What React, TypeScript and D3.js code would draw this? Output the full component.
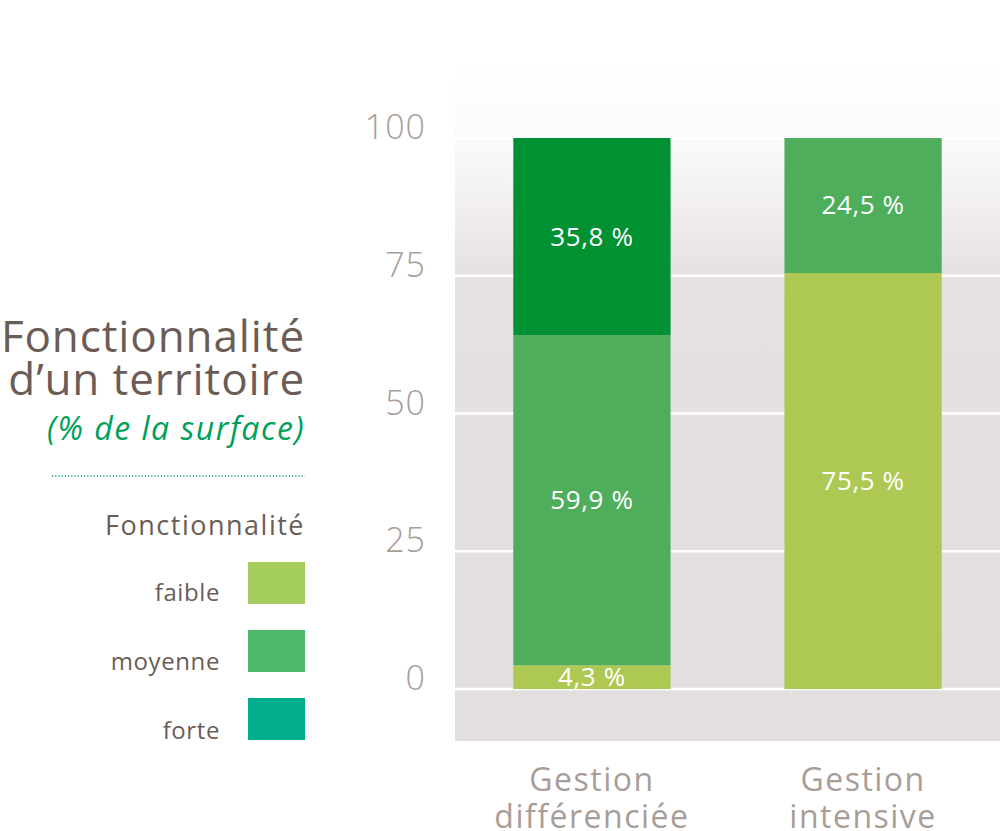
import React from "react";
import * as d3 from "d3";

const categories = ["Gestion différenciée", "Gestion intensive"];
const categoryLines = [["Gestion", "différenciée"], ["Gestion", "intensive"]];
const levels = ["faible", "moyenne", "forte"];
const faible = [4.3, 75.5];
const moyenne = [59.9, 24.5];
const forte = [35.8, 0];
const yTicks = [0, 25, 50, 75, 100];
const barColors = ["#adc853", "#4eae5c", "#009133"];
const legendColors = ["#a4cd5e", "#4cba6a", "#00ae8b"];

const W = 1000;
const H = 831;
const FONT = "'Open Sans', sans-serif";

export default function App() {
  const y = d3.scaleLinear().domain([0, 100]).range([689, 138]);
  const x = d3.scaleBand().domain(categories).range([455, 1000]).paddingInner(0.42).paddingOuter(0.215);
  const rows = categories.map((c, i) => ({ cat: c, faible: faible[i], moyenne: moyenne[i], forte: forte[i] }));
  const stack = d3.stack<any>().keys(levels)(rows);
  const fmt = (v: number) => d3.format(".1f")(v).replace(".", ",") + " %";

  return (
    <svg width={W} height={H} style={{ position: "absolute", left: 0, top: 0, display: "block" }}>
      <defs>
        <linearGradient id="bg" x1="0" y1="0" x2="0" y2="1" gradientUnits="objectBoundingBox">
          <stop offset="0" stopColor="#ffffff" />
          <stop offset="0.1" stopColor="#fcfbfb" />
          <stop offset="0.2" stopColor="#f3f0f0" />
          <stop offset="0.315" stopColor="#e6e1e1" />
          <stop offset="1" stopColor="#e4dfdf" />
        </linearGradient>
      </defs>
      <rect x={455} y={60} width={545} height={681} fill="url(#bg)" />
      {yTicks.map((t) => (
        <g key={t}>
          <line x1={455} x2={1000} y1={y(t)} y2={y(t)} stroke="#ffffff" strokeWidth={2.5} />
          <text x={426} y={y(t) + 1} textAnchor="end" fontFamily={FONT} fontWeight={300} fontSize={34} letterSpacing={1} fill="#a99d98">
            {t}
          </text>
        </g>
      ))}
      {stack.map((s, si) =>
        s.map((d, i) => {
          const v = d[1] - d[0];
          if (v <= 0) return null;
          const bx = x(categories[i])!;
          const y0 = y(d[0]);
          const y1 = y(d[1]);
          return (
            <g key={si + "-" + i}>
              <rect x={bx} y={y1} width={x.bandwidth()} height={y0 - y1} fill={barColors[si]} />
              <text
                x={bx + x.bandwidth() / 2}
                y={(y0 + y1) / 2 + 9}
                textAnchor="middle"
                fontFamily={FONT}
                fontSize={26}
                letterSpacing={0.6}
                fill="#ffffff"
              >
                {fmt(v)}
              </text>
            </g>
          );
        })
      )}
      {categoryLines.map((lines, i) => (
        <text key={i} textAnchor="middle" fontFamily={FONT} fontSize={32} letterSpacing={1.5} fill="#a99d98">
          {lines.map((l, j) => (
            <tspan key={j} x={x(categories[i])! + x.bandwidth() / 2} y={791 + j * 37}>
              {l}
            </tspan>
          ))}
        </text>
      ))}
      <text x={305} y={352} textAnchor="end" fontFamily={FONT} fontSize={44} letterSpacing={0.9} fill="#6b5c56">Fonctionnalité</text>
      <text x={305} y={395} textAnchor="end" fontFamily={FONT} fontSize={44} letterSpacing={0.9} fill="#6b5c56">d’un territoire</text>
      <text x={305} y={440} textAnchor="end" fontFamily={FONT} fontStyle="italic" fontSize={32} letterSpacing={1.5} fill="#00a05a">(% de la surface)</text>
      <line x1={52} x2={305} y1={476} y2={476} stroke="#00a05a" strokeWidth={1.5} strokeDasharray="1.2 2" />
      <text x={305} y={535} textAnchor="end" fontFamily={FONT} fontSize={27} letterSpacing={1.5} fill="#6b5c56">Fonctionnalité</text>
      {levels.map((l, i) => (
        <g key={l}>
          <rect x={248} y={562 + i * 68} width={57} height={42} fill={legendColors[i]} />
          <text x={220} y={601 + i * 69} textAnchor="end" fontFamily={FONT} fontSize={24} letterSpacing={0.6} fill="#6b5c56">{l}</text>
        </g>
      ))}
    </svg>
  );
}
